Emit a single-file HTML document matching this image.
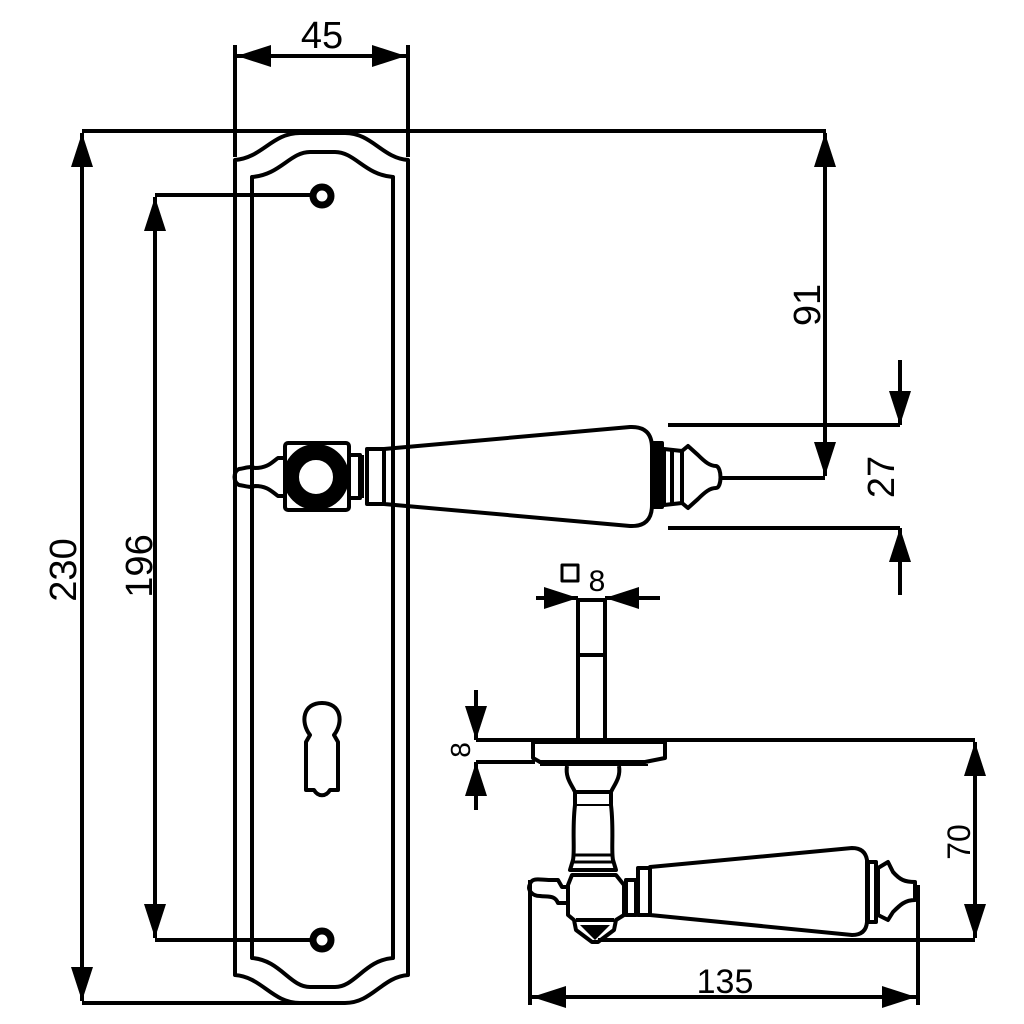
<!DOCTYPE html>
<html><head><style>html,body{margin:0;padding:0;background:#fff}svg{display:block}</style></head>
<body>
<svg width="1024" height="1024" viewBox="0 0 1024 1024" xmlns="http://www.w3.org/2000/svg" font-family="Liberation Sans, Arial, sans-serif">
<defs>
<marker id="a" viewBox="0 0 34 22" refX="34" refY="11" markerWidth="34" markerHeight="22" markerUnits="userSpaceOnUse" orient="auto-start-reverse">
<path d="M34,11 L0,0 L0,22 Z" fill="#000"/>
</marker>
</defs>
<g fill="none" stroke="#000" stroke-width="4" stroke-linejoin="round">
<path d="M235,975 L235,160 C262,158 272,133 300,133 L345,133 C372,133 382,158 408,160 L408,975 C382,977 372,1003 345,1003 L300,1003 C272,1003 262,977 235,975 Z"/>
<path d="M252,958 L252,177 C280,175 290,152 310,152 L335,152 C355,152 365,175 393,177 L393,958 C365,960 355,987 335,987 L310,987 C290,987 280,960 252,958 Z"/>
<path d="M310,735 C300,722 303,703 322,703 C341,703 344,722 334,735 L338,742 L338,790 L330,790 C326,797 318,797 314,790 L306,790 L306,742 Z"/>
<circle cx="322" cy="196" r="9" stroke-width="7"/>
<circle cx="322" cy="940" r="9" stroke-width="7"/>

<line x1="235" y1="45" x2="235" y2="157"/>
<line x1="408" y1="45" x2="408" y2="157"/>
<line x1="237" y1="56" x2="406" y2="56" marker-start="url(#a)" marker-end="url(#a)"/>
<line x1="82" y1="131" x2="826" y2="131"/>
<line x1="82" y1="1003" x2="300" y2="1003"/>
<line x1="82" y1="133" x2="82" y2="1001" marker-start="url(#a)" marker-end="url(#a)"/>
<line x1="155" y1="195" x2="313" y2="195"/>
<line x1="155" y1="940" x2="313" y2="940"/>
<line x1="155" y1="197" x2="155" y2="938" marker-start="url(#a)" marker-end="url(#a)"/>
<line x1="825" y1="133" x2="825" y2="476" marker-start="url(#a)" marker-end="url(#a)"/>
<line x1="722" y1="478" x2="825" y2="478"/>
<line x1="668" y1="425" x2="900" y2="425"/>
<line x1="668" y1="528" x2="900" y2="528"/>
<line x1="900" y1="360" x2="900" y2="425" marker-end="url(#a)"/>
<line x1="900" y1="595" x2="900" y2="528" marker-end="url(#a)"/>

<rect x="285" y="443" width="64" height="67" rx="3"/>
<circle cx="316" cy="477" r="25" stroke-width="16"/>
<path d="M284,458 L278,458 C272,462 268,468 255,468 C250,466 246,468 239,469 C233,472 233,482 239,485 C246,486 250,488 255,486 C268,486 272,492 278,496 L284,496"/>
<rect x="349" y="455" width="11" height="43"/>
<rect x="367" y="449" width="17" height="55"/>
<line x1="362" y1="455" x2="362" y2="498"/>
<path d="M384,449 L630,427 Q652,426 652,448 L652,505 Q652,527 630,526 L384,504 Z"/>
<rect x="654" y="443" width="8" height="64" fill="#000"/>
<path d="M664,449 L682,451 L688,446 L698,455 C705,462 710,466 716,466 C722,467 722,488 716,488 C710,488 705,492 698,499 L688,508 L682,503 L664,505 Z"/>
<line x1="682" y1="451" x2="682" y2="503"/>
<line x1="672" y1="449" x2="672" y2="505"/>

<rect x="578" y="600" width="27" height="140"/>
<line x1="578" y1="655" x2="605" y2="655"/>
<line x1="536" y1="598" x2="578" y2="598" marker-end="url(#a)"/>
<line x1="660" y1="598" x2="605" y2="598" marker-end="url(#a)"/>
<rect x="562" y="565" width="16" height="16" stroke-width="3"/>
<path d="M533,742 L665,742 L665,758 L645,762 L540,762 L533,758 Z"/>
<line x1="540" y1="765" x2="648" y2="765" stroke-width="2"/>
<line x1="476" y1="740" x2="975" y2="740"/>
<line x1="476" y1="762" x2="535" y2="762"/>
<line x1="476" y1="690" x2="476" y2="740" marker-end="url(#a)"/>
<line x1="476" y1="810" x2="476" y2="762" marker-end="url(#a)"/>
<path d="M567,766 C565,778 572,785 575,792 L575,805 C572,830 575,850 573,860 L570,870 L616,870 L613,860 C611,850 614,830 611,805 L611,792 C614,785 621,778 619,766"/>
<line x1="575" y1="792" x2="611" y2="792"/>
<line x1="575" y1="805" x2="611" y2="805" stroke-width="2"/>
<line x1="573" y1="855" x2="613" y2="855" stroke-width="3"/>
<line x1="571" y1="862" x2="615" y2="862" stroke-width="3"/>
<path d="M572,875 L616,875 L624,885 L624,915 L616,920 L614,930 L598,942 L592,942 L576,930 L574,920 L568,915 L568,885 Z"/>
<line x1="576" y1="920" x2="614" y2="920"/>
<path d="M580,925 L610,925 L595,940 Z" fill="#000" stroke="none"/>
<path d="M568,887 L562,887 L558,880 L550,880 C540,880 532,877 530,884 C527,890 532,896 540,896 C548,897 555,895 558,903 L568,903"/>
<rect x="626" y="880" width="10" height="35"/>
<rect x="638" y="868" width="12" height="47"/>
<path d="M650,867 L852,848 Q865,848 867,860 L867,922 Q866,935 852,935 L650,915 Z"/>
<rect x="868" y="862" width="8" height="60"/>
<path d="M878,868 L888,862 L893,872 C900,880 905,882 915,882 L915,900 C905,900 900,905 893,912 L888,920 L878,915 Z"/>
<line x1="598" y1="940" x2="975" y2="940"/>
<line x1="975" y1="742" x2="975" y2="938" marker-start="url(#a)" marker-end="url(#a)"/>
<line x1="530" y1="880" x2="530" y2="1005"/>
<line x1="918" y1="885" x2="918" y2="1005"/>
<line x1="532" y1="997" x2="916" y2="997" marker-start="url(#a)" marker-end="url(#a)"/>
</g>
<g font-size="38" fill="#000" text-anchor="middle">
<text x="322" y="48">45</text>
<text x="725" y="993" font-size="34">135</text>
<text x="597" y="591" font-size="30">8</text>
<text transform="translate(76,570) rotate(-90)">230</text>
<text transform="translate(152,566) rotate(-90)">196</text>
<text transform="translate(820,305) rotate(-90)">91</text>
<text transform="translate(894,477) rotate(-90)">27</text>
<text transform="translate(970,842) rotate(-90)" font-size="32">70</text>
<text transform="translate(470,750) rotate(-90)" font-size="28">8</text>
</g>
</svg>
</body></html>
